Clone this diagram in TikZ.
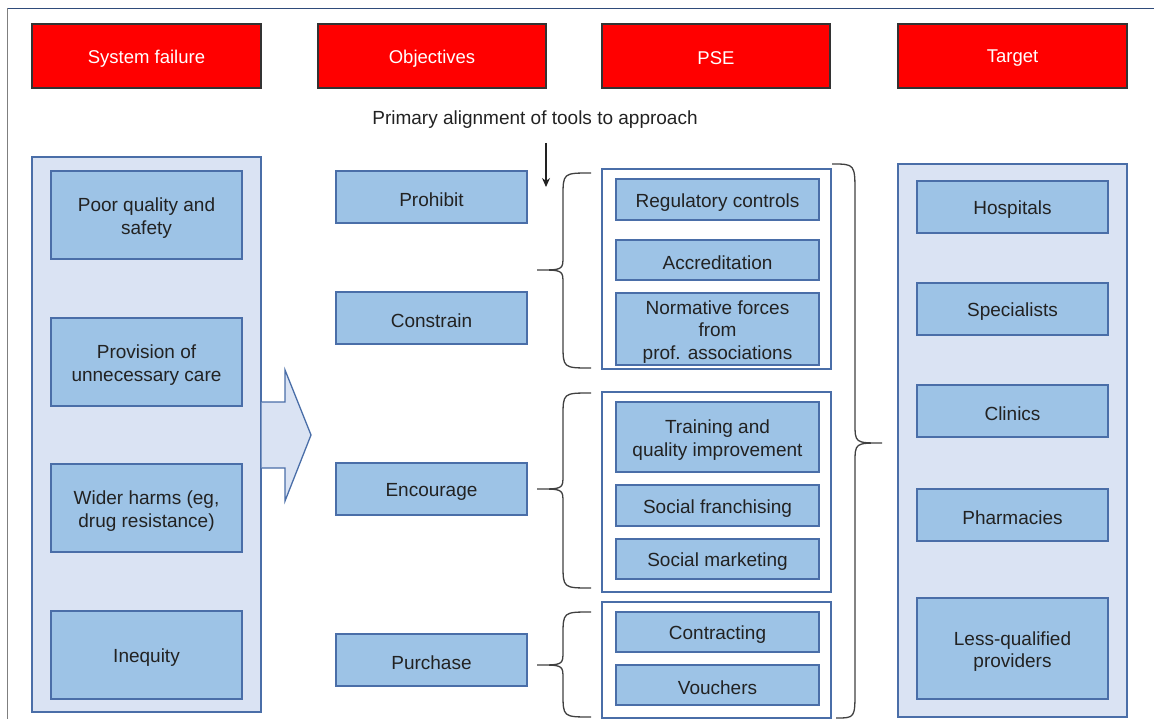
\documentclass[tikz,border=0pt]{standalone}
\usepackage{fontspec}
\setmainfont{Liberation Sans}
\usetikzlibrary{arrows.meta}
\definecolor{headred}{HTML}{FF0000}
\definecolor{panelfill}{HTML}{DAE3F3}
\definecolor{boxfill}{HTML}{9DC3E6}
\definecolor{boxline}{HTML}{4A6EA8}
\definecolor{txt}{HTML}{222222}
\definecolor{bracegray}{HTML}{404040}
\definecolor{frametop}{HTML}{2F4B7A}
\definecolor{frameleft}{HTML}{7F7F7F}
\tikzset{
  headfont/.style={font=\fontsize{18.5}{22.5}\selectfont},
  bodyfont/.style={font=\fontsize{19}{22.8}\selectfont},
  header/.style={draw=black!80, line width=1.2pt, fill=headred, inner sep=0pt},
  headtext/.style={headfont, text=white, inner sep=0pt, align=center, yshift=-2.5pt},
  panel/.style={draw=boxline, line width=1.3pt, fill=panelfill, inner sep=0pt},
  group/.style={draw=boxline, line width=1.3pt, fill=white, inner sep=0pt},
  item/.style={draw=boxline, line width=1.3pt, fill=boxfill, inner sep=0pt},
  itemtext/.style={bodyfont, text=txt, inner sep=0pt, align=center, yshift=-3pt},
  bracestyle/.style={draw=bracegray, line width=1.3pt},
}
% box given by its corners: name, style, x1, y1, x2, y2
\newcommand\cornerbox[6]{%
  \node[#2, minimum width={(#5)-(#3)}, minimum height={(#6)-(#4)}]
    (#1) at ({((#3)+(#5))/2},{((#4)+(#6))/2}) {};}
% box with its text: name, box style, text style, x1, y1, x2, y2, text
\newcommand\textbox[8]{%
  \cornerbox{#1}{#2}{#4}{#5}{#6}{#7}%
  \node[#3] (#1-text) at (#1.center) {#8};}
% left curly brace: right ends x, spine x, tip x, top y, tip y, bottom y
\newcommand\leftcurly[6]{%
  \draw[bracestyle] (#1,#4) .. controls (#2,#4) .. (#2,#4+24)
    -- (#2,#5-14) .. controls (#2,#5) .. (#3,#5)
    .. controls (#2,#5) .. (#2,#5+14)
    -- (#2,#6-24) .. controls (#2,#6) .. (#1,#6);}
\begin{document}
\begin{tikzpicture}[x=1pt,y=-1pt]
\useasboundingbox (0,0) rectangle (1154,719);
% outer frame
\draw[frametop, line width=1.4pt] (7,8.5) -- (1154,8.5);
\draw[frameleft, line width=1.4pt] (7.5,8) -- (7.5,719);

% column headers
\textbox{hsys}{header}{headtext}{32}{24}{261}{88}{System failure}
\textbox{hobj}{header}{headtext}{318}{24}{546}{88}{Objectives}
\textbox{hpse}{header}{headtext}{602}{24}{830}{88}{PSE}
\textbox{htar}{header}{headtext}{898}{24}{1127}{88}{Target}

% caption with its pointer
\node[bodyfont, text=txt] (prim) at (535,120) {Primary alignment of tools to approach};
\coordinate (primfrom) at (546,143);
\coordinate (primtip) at (546,187);
\draw[txt, line width=1.3pt, -{Stealth[length=9pt,width=8pt]}] (primfrom) -- (primtip);

% system failure panel
\cornerbox{sfpanel}{panel}{32}{157}{261}{712}
\textbox{poor}{item}{itemtext}{51}{171}{242}{259}{Poor quality and\\safety}
\textbox{prov}{item}{itemtext}{51}{318}{242}{406}{Provision of\\unnecessary care}
\textbox{wider}{item}{itemtext}{51}{464}{242}{552}{Wider harms (eg,\\drug resistance)}
\textbox{ineq}{item}{itemtext}{51}{611}{242}{699}{Inequity}

% block arrow leaving the panel
\fill[panelfill] (sfpanel.east |- 0,402) -- (285,402) -- (285,370) -- (311,435)
  -- (285,501) -- (285,468) -- (sfpanel.east |- 0,468) -- cycle;
\draw[boxline, line width=1.3pt, line join=miter] (sfpanel.east |- 0,402) -- (285,402)
  -- (285,370) -- (311,435) -- (285,501) -- (285,468) -- (sfpanel.east |- 0,468);

% objectives
\textbox{prohibit}{item}{itemtext}{336}{171}{527}{223}{Prohibit}
\textbox{constrain}{item}{itemtext}{336}{292}{527}{344}{Constrain}
\textbox{encourage}{item}{itemtext}{336}{463}{527}{515}{Encourage}
\textbox{purchase}{item}{itemtext}{336}{634}{527}{686}{Purchase}

% PSE tool groups
\cornerbox{gone}{group}{602}{169}{831}{369}
\textbox{regctl}{item}{itemtext}{616}{179}{819}{220}{Regulatory controls}
\textbox{accr}{item}{itemtext}{616}{240}{819}{280}{Accreditation}
\textbox{norm}{item}{itemtext}{616}{293}{819}{365}{Normative forces\\from\\prof. associations}

\cornerbox{gtwo}{group}{602}{392}{831}{592}
\textbox{train}{item}{itemtext}{616}{402}{819}{472}{Training and\\quality improvement}
\textbox{franch}{item}{itemtext}{616}{485}{819}{526}{Social franchising}
\textbox{market}{item}{itemtext}{616}{539}{819}{579}{Social marketing}

\cornerbox{gthree}{group}{602}{602}{831}{718}
\textbox{contr}{item}{itemtext}{616}{612}{819}{652}{Contracting}
\textbox{vouch}{item}{itemtext}{616}{665}{819}{705}{Vouchers}

% braces tying objectives to tool groups
\leftcurly{591}{563}{537}{173}{270}{368}
\leftcurly{591}{563}{537}{393}{489}{588}
\leftcurly{591}{563}{537}{612}{665}{717}

% large brace towards the targets
\draw[bracestyle] (832,164) .. controls (855,164) .. (855,194)
  -- (855,423) .. controls (855,443) .. (882,443)
  .. controls (855,443) .. (855,463)
  -- (855,690) .. controls (855,718) .. (836,718);

% target panel
\cornerbox{tpanel}{panel}{898}{164}{1127}{717}
\textbox{hosp}{item}{itemtext}{917}{181}{1108}{233}{Hospitals}
\textbox{spec}{item}{itemtext}{917}{283}{1108}{335}{Specialists}
\textbox{clin}{item}{itemtext}{917}{385}{1108}{437}{Clinics}
\textbox{pharm}{item}{itemtext}{917}{489}{1108}{541}{Pharmacies}
\textbox{lessq}{item}{itemtext}{917}{598}{1108}{699}{Less-qualified\\providers}
\end{tikzpicture}
\end{document}
